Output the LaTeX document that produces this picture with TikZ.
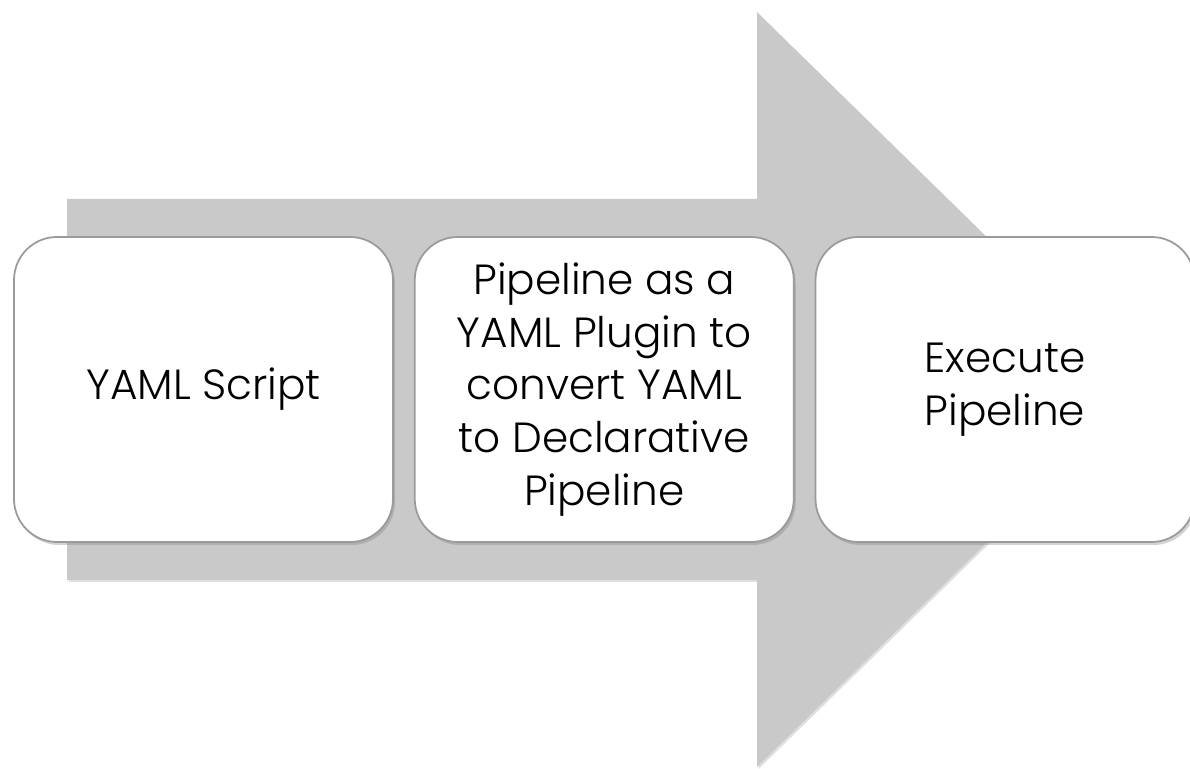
\documentclass[tikz,border=0pt]{standalone}
\usepackage{fontspec}
\setmainfont{Poppins}[UprightFont={* Light}]
\usetikzlibrary{positioning,shadows}
\definecolor{arrowgray}{HTML}{C9C9C9}
\definecolor{boxline}{HTML}{9A9A9A}
\tikzset{
  stage/.style={draw=boxline, line width=1pt, fill=white, rounded corners=0.86cm,
    minimum width=7.58cm, minimum height=6.1cm, align=center,
    font=\fontsize{24}{30}\selectfont, text=black,
    drop shadow={shadow xshift=0.04cm, shadow yshift=-0.06cm, opacity=0.35}},
}
\begin{document}
\begin{tikzpicture}
\useasboundingbox (0,0) rectangle (23.8,15.38);

% big arrow behind
\fill[arrowgray, drop shadow={shadow xshift=0.03cm, shadow yshift=-0.04cm, opacity=0.25}]
  (1.34,11.40) -- (15.14,11.40) -- (15.14,15.14) -- (22.86,7.58)
  -- (15.14,0.04) -- (15.14,3.78) -- (1.34,3.78) -- cycle;

% stages
\node[stage] (yaml) at (4.07,7.59) {YAML Script};
\node[stage, right=0.4cm of yaml] (plugin) {Pipeline as a\\YAML Plugin to\\convert YAML\\to Declarative\\Pipeline};
\node[stage, right=0.4cm of plugin] (exec) {Execute\\Pipeline};
\end{tikzpicture}
\end{document}
